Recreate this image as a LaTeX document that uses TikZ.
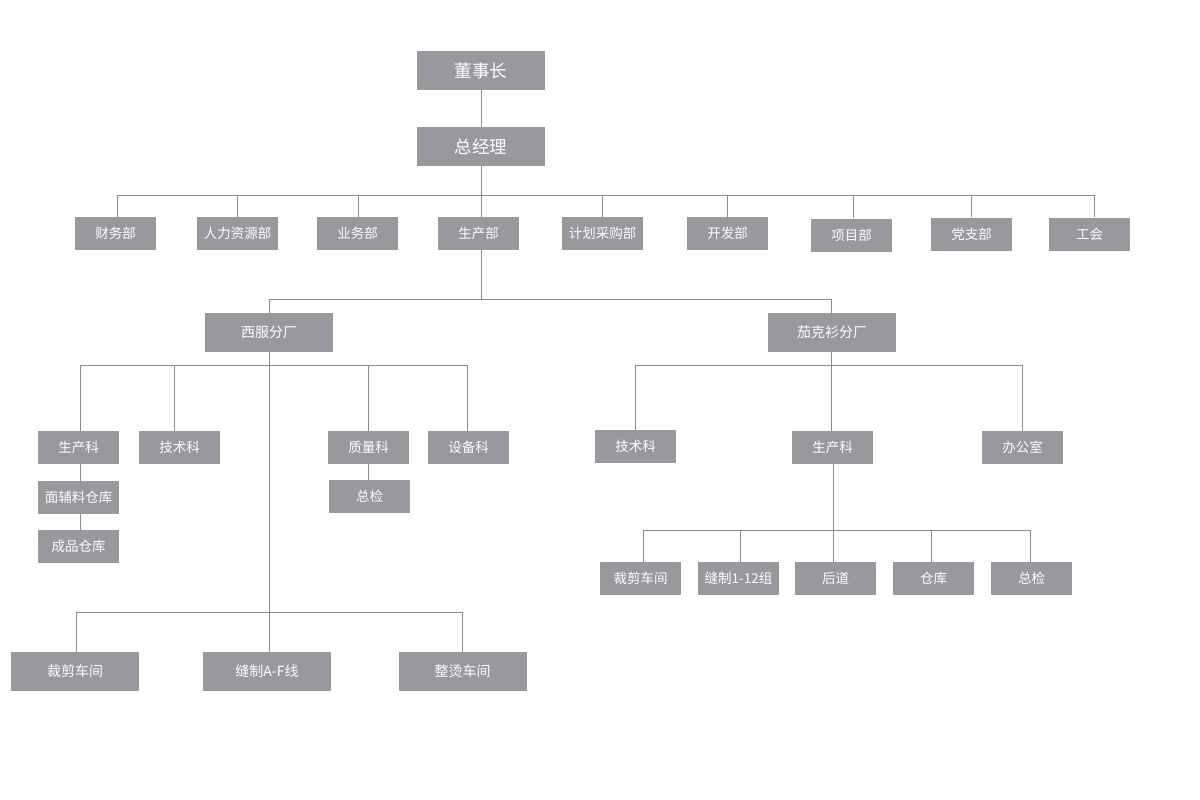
\documentclass[tikz,border=0pt]{standalone}
\usepackage{fontspec}
\setmainfont{Noto Sans CJK SC}
\definecolor{boxgray}{RGB}{153,152,157}
\definecolor{linegray}{RGB}{140,140,140}
\begin{document}
\begin{tikzpicture}[x=1pt,y=-1pt,
  box/.style={fill=boxgray,text=white,inner sep=0pt,minimum width=81pt,minimum height=33pt,font=\fontsize{13.5}{14}\selectfont},
  bigbox/.style={box,minimum width=128pt,minimum height=39pt,font=\fontsize{14}{15}\selectfont},
  topbox/.style={bigbox,font=\fontsize{17.5}{18}\selectfont},
  conn/.style={draw=linegray,line width=1pt}]
\useasboundingbox (0,0) rectangle (1200,800);
% top
\node[topbox] (dsz) at (481,70.5) {董事长};
\node[topbox] (zjl) at (481,146.5) {总经理};
% departments
\node[box] (cw) at (115.5,233.5) {财务部};
\node[box] (rl) at (237.5,233.5) {人力资源部};
\node[box] (yw) at (357.5,233.5) {业务部};
\node[box] (sc) at (478.5,233.5) {生产部};
\node[box] (jh) at (602.5,233.5) {计划采购部};
\node[box] (kf) at (727.5,233.5) {开发部};
\node[box] (xm) at (851.5,235) {项目部};
\node[box] (dz) at (971.5,234) {党支部};
\node[box] (gh) at (1089.5,234) {工会};
% factories
\node[bigbox] (xf) at (269,332.5) {西服分厂};
\node[bigbox] (jk) at (832,332.5) {茄克衫分厂};
% xifu branch
\node[box] (xsck) at (78.5,447.5) {生产科};
\node[box] (xjsk) at (179.5,447.5) {技术科};
\node[box] (xzlk) at (368.5,447.5) {质量科};
\node[box] (xsbk) at (468.5,447.5) {设备科};
\node[box] (xmf) at (78.5,497.5) {面辅料仓库};
\node[box] (xcp) at (78.5,546.5) {成品仓库};
\node[box] (xzj) at (369.5,496.5) {总检};
\node[bigbox] (xcj) at (75,671.5) {裁剪车间};
\node[bigbox] (xfz) at (267,671.5) {缝制A-F线};
\node[bigbox] (xzt) at (462.5,671.5) {整烫车间};
% jacket branch
\node[box] (jjsk) at (635.5,446.5) {技术科};
\node[box] (jsck) at (832.5,447.5) {生产科};
\node[box] (jbgs) at (1022.5,447.5) {办公室};
\node[box] (jcj) at (640.5,578.5) {裁剪车间};
\node[box] (jfz) at (738.5,578.5) {缝制1-12组};
\node[box] (jhd) at (835.5,578.5) {后道};
\node[box] (jck) at (933.5,578.5) {仓库};
\node[box] (jzj) at (1031.5,578.5) {总检};
% bus coordinates
\coordinate (b1) at (481,195);
\coordinate (b1l) at (117,195);
\coordinate (b1r) at (1094,195);
\coordinate (b2) at (481,299);
\coordinate (b2l) at (269,299);
\coordinate (b2r) at (831,299);
\coordinate (b3) at (269,365);
\coordinate (b3l) at (80,365);
\coordinate (b3r) at (467,365);
\coordinate (b4) at (269,612);
\coordinate (b4l) at (76.5,612);
\coordinate (b4r) at (462.5,612);
\coordinate (b5) at (831,365);
\coordinate (b5l) at (635,365);
\coordinate (b5r) at (1022,365);
\coordinate (b6) at (833,530);
\coordinate (b6l) at (643,530);
\coordinate (b6r) at (1030,530);
% connectors
\draw[conn] (dsz) -- (zjl);
\draw[conn] (zjl) -- (b1);
\draw[conn] (b1l) -- (b1r);
\draw[conn] (b1l) -- (b1l |- cw.north);
\draw[conn] (237.5,195) -- (rl.north);
\draw[conn] (358,195) -- (358,195 |- yw.north);
\draw[conn] (b1) -- (b1 |- sc.north);
\draw[conn] (602.5,195) -- (jh.north);
\draw[conn] (727.5,195) -- (kf.north);
\draw[conn] (853,195) -- (853,195 |- xm.north);
\draw[conn] (971,195) -- (971,195 |- dz.north);
\draw[conn] (b1r) -- (b1r |- gh.north);
\draw[conn] (b1 |- sc.south) -- (b2);
\draw[conn] (b2l) -- (b2r);
\draw[conn] (b2l) -- (xf.north);
\draw[conn] (b2r) -- (b2r |- jk.north);
% xifu
\draw[conn] (xf.south) -- (b4);
\draw[conn] (b3l) -- (b3r);
\draw[conn] (b3l) -- (b3l |- xsck.north);
\draw[conn] (174.5,365) -- (174.5,365 |- xjsk.north);
\draw[conn] (368,365) -- (368,365 |- xzlk.north);
\draw[conn] (b3r) -- (b3r |- xsbk.north);
\draw[conn] (b3l |- xsck.south) -- (b3l |- xmf.north);
\draw[conn] (b3l |- xmf.south) -- (b3l |- xcp.north);
\draw[conn] (368,365 |- xzlk.south) -- (368,365 |- xzj.north);
\draw[conn] (b4l) -- (b4r);
\draw[conn] (b4l) -- (b4l |- xcj.north);
\draw[conn] (b4) -- (b4 |- xfz.north);
\draw[conn] (b4r) -- (xzt.north);
% jacket
\draw[conn] (jk.south -| b5) -- (b5 |- jsck.north);
\draw[conn] (b5l) -- (b5r);
\draw[conn] (b5l) -- (b5l |- jjsk.north);
\draw[conn] (b5r) -- (b5r |- jbgs.north);
\draw[conn] (b6 |- jsck.south) -- (b6);
\draw[conn] (b6l) -- (b6r);
\draw[conn] (b6l) -- (b6l |- jcj.north);
\draw[conn] (740,530) -- (740,530 |- jfz.north);
\draw[conn] (b6) -- (b6 |- jhd.north);
\draw[conn] (931,530) -- (931,530 |- jck.north);
\draw[conn] (b6r) -- (b6r |- jzj.north);
\end{tikzpicture}
\end{document}
